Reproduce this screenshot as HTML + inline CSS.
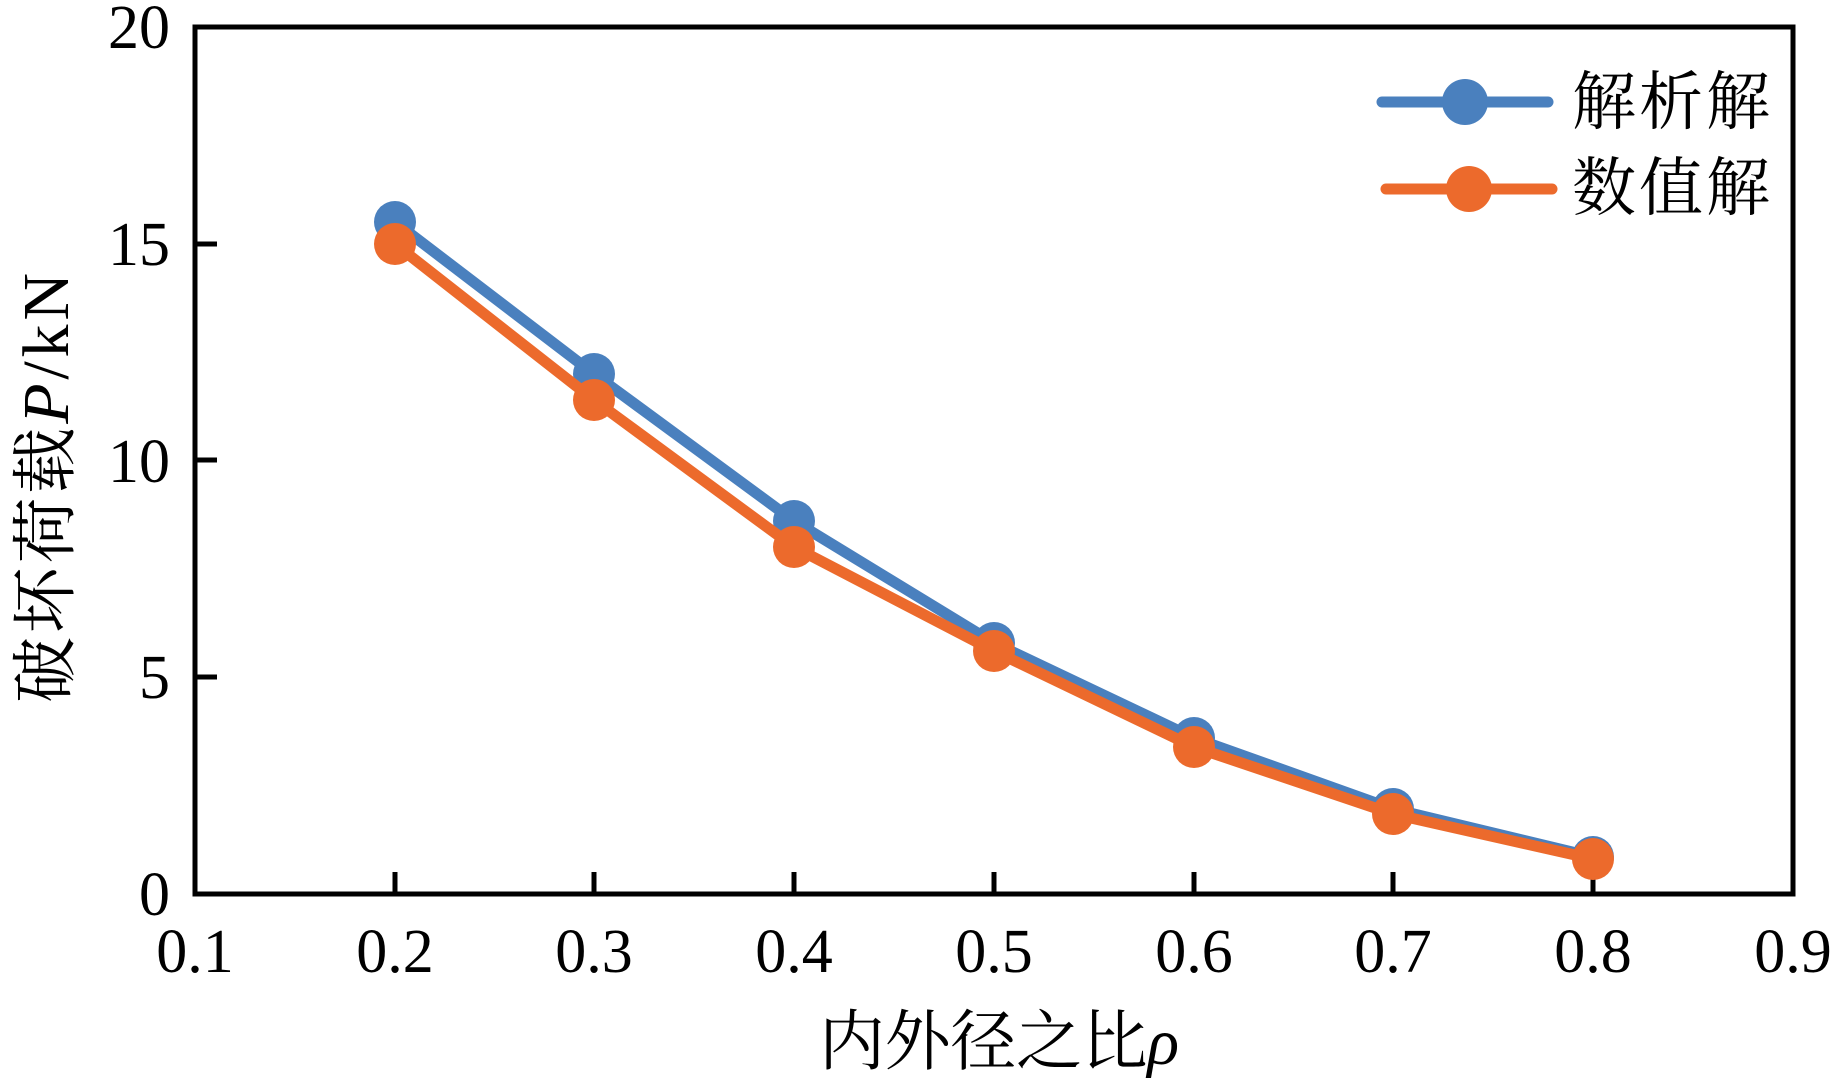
<!DOCTYPE html>
<html><head><meta charset="utf-8"><style>body{margin:0;background:#fff}</style></head><body>
<svg width="1843" height="1084" xmlns="http://www.w3.org/2000/svg">
<rect width="1843" height="1084" fill="#fff"/>
<g font-family="Liberation Serif, serif" font-size="62" fill="#000">
<g text-anchor="middle">
<text x="195" y="972">0.1</text><text x="395" y="972">0.2</text><text x="594" y="972">0.3</text><text x="794" y="972">0.4</text><text x="994" y="972">0.5</text><text x="1194" y="972">0.6</text><text x="1393" y="972">0.7</text><text x="1593" y="972">0.8</text><text x="1793" y="972">0.9</text>
</g>
<g text-anchor="end">
<text x="170" y="915">0</text><text x="170" y="698">5</text><text x="170" y="482">10</text><text x="170" y="265">15</text><text x="170" y="48">20</text>
</g>
</g>
<g stroke="#000" stroke-width="5">
<line x1="395" y1="894" x2="395" y2="872"/><line x1="594" y1="894" x2="594" y2="872"/><line x1="794" y1="894" x2="794" y2="872"/><line x1="994" y1="894" x2="994" y2="872"/><line x1="1194" y1="894" x2="1194" y2="872"/><line x1="1393" y1="894" x2="1393" y2="872"/><line x1="1593" y1="894" x2="1593" y2="872"/>
<line x1="195" y1="677" x2="217" y2="677"/><line x1="195" y1="460" x2="217" y2="460"/><line x1="195" y1="244" x2="217" y2="244"/>
</g>
<rect x="195" y="27" width="1598" height="867" fill="none" stroke="#000" stroke-width="5"/>
<g fill="#4a80be" stroke="#4a80be">
<polyline fill="none" stroke-width="11" stroke-linejoin="round" points="395,222 594,374 794,521 994,643 1194,738 1393,809 1593,857"/>
<g stroke="none"><circle cx="395" cy="222" r="21"/><circle cx="594" cy="374" r="21"/><circle cx="794" cy="521" r="21"/><circle cx="994" cy="643" r="21"/><circle cx="1194" cy="738" r="21"/><circle cx="1393" cy="809" r="21"/><circle cx="1593" cy="857" r="21"/></g>
</g>
<g fill="#ec6a2c" stroke="#ec6a2c">
<polyline fill="none" stroke-width="11" stroke-linejoin="round" points="395,244 594,400 794,547 994,651 1194,747 1393,814 1593,859"/>
<g stroke="none"><circle cx="395" cy="244" r="21"/><circle cx="594" cy="400" r="21"/><circle cx="794" cy="547" r="21"/><circle cx="994" cy="651" r="21"/><circle cx="1194" cy="747" r="21"/><circle cx="1393" cy="814" r="21"/><circle cx="1593" cy="859" r="21"/></g>
</g>
<line x1="1382" y1="102" x2="1548" y2="102" stroke="#4a80be" stroke-width="11" stroke-linecap="round"/>
<circle cx="1465" cy="102" r="23" fill="#4a80be"/>
<line x1="1386" y1="189" x2="1552" y2="189" stroke="#ec6a2c" stroke-width="11" stroke-linecap="round"/>
<circle cx="1469" cy="189" r="23" fill="#ec6a2c"/>
<g font-family="Liberation Serif, 'Noto Serif CJK SC', serif" font-size="64" fill="#000">
<text x="1572" y="124" textLength="198">解析解</text>
<text x="1572" y="210" textLength="198">数值解</text>
<text x="999" y="1064" text-anchor="middle" font-size="66" textLength="360">内外径之比<tspan font-style="italic">ρ</tspan></text>
<text transform="translate(68,488) rotate(-90)" text-anchor="middle" font-size="66" textLength="430">破坏荷载<tspan font-style="italic">P</tspan>/kN</text>
</g>
</svg>
</body></html>
